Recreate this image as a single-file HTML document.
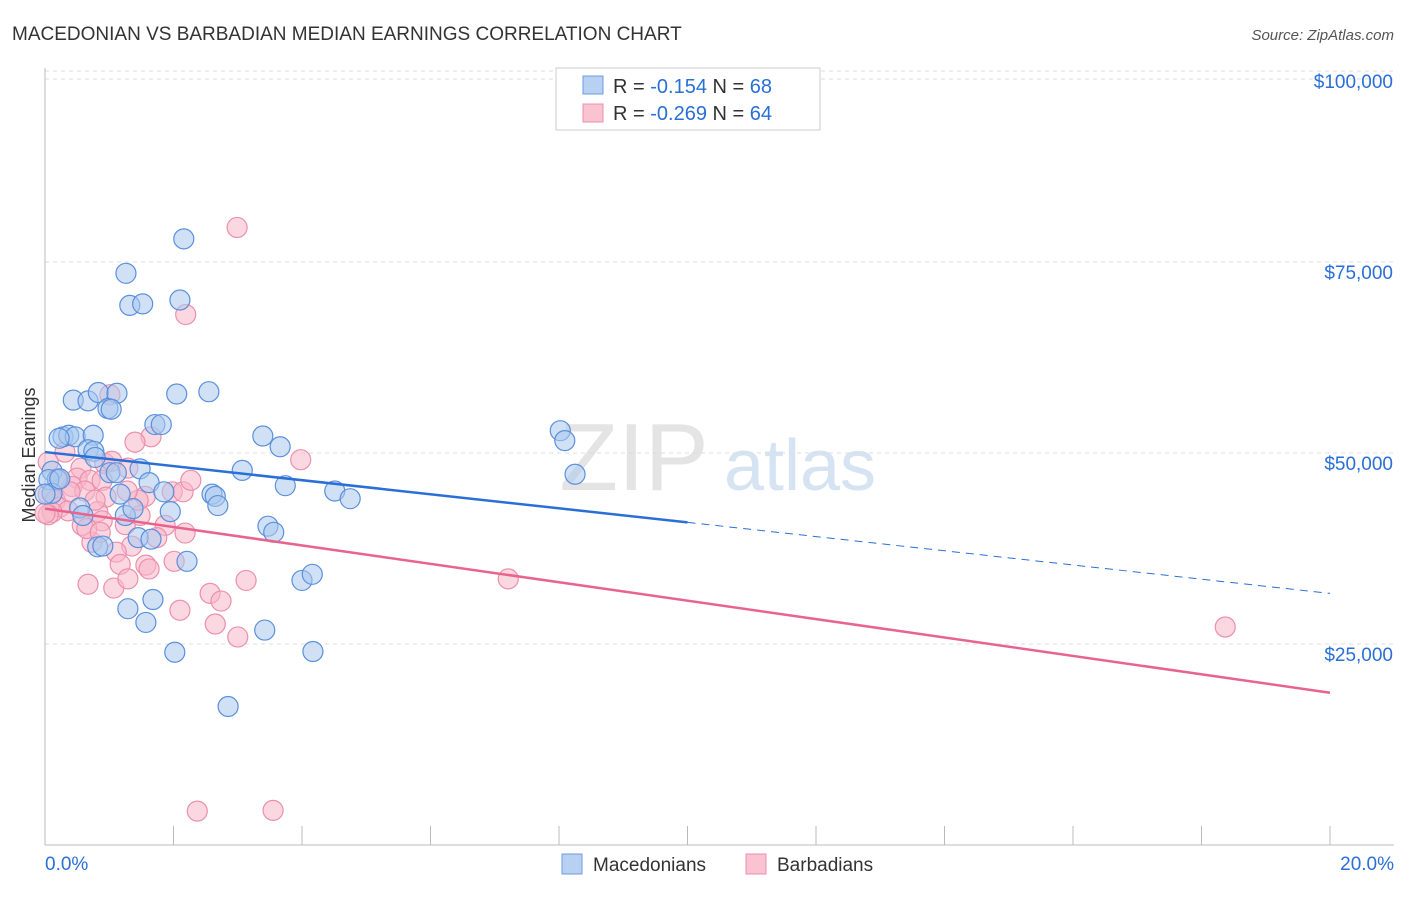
<!DOCTYPE html>
<html><head><meta charset="utf-8"><style>
body{margin:0;background:#fff;font-family:"Liberation Sans",sans-serif;}
svg text{font-family:"Liberation Sans",sans-serif;}
</style></head><body>
<svg id="chart" width="1406" height="892">
<text x="12" y="40" font-size="19" fill="#333">MACEDONIAN VS BARBADIAN MEDIAN EARNINGS CORRELATION CHART</text>
<text x="1394" y="40" font-size="15" fill="#555" font-style="italic" text-anchor="end">Source: ZipAtlas.com</text>
<text x="634" y="490" font-size="96" fill="#e4e4e4" font-family="Liberation Serif" text-anchor="middle">ZIP</text>
<text x="800" y="490" font-size="72" fill="#d6e3f3" text-anchor="middle">atlas</text>
<g id="grid"></g>
<g id="axes"></g>
<g id="pts"></g>
<g id="lines"></g>
<text transform="translate(35,455) rotate(-90)" font-size="18" fill="#333" text-anchor="middle">Median Earnings</text>
<g>
<rect x="556" y="68" width="264" height="62" fill="#fff" stroke="#ccc"/>
<rect x="583" y="76" width="20" height="18" fill="#b8d0f2" stroke="#6d9be0"/>
<rect x="583" y="104" width="20" height="18" fill="#f9c3d2" stroke="#ec8fac"/>
<text x="613" y="93" font-size="20" fill="#333">R = <tspan fill="#2a6fd6">-0.154</tspan>   N = <tspan fill="#2a6fd6">68</tspan></text>
<text x="613" y="120" font-size="20" fill="#333">R = <tspan fill="#2a6fd6">-0.269</tspan>   N = <tspan fill="#2a6fd6">64</tspan></text>
</g>
<g>
<rect x="562" y="854" width="20" height="20" fill="#b8d0f2" stroke="#6d9be0"/>
<text x="593" y="871" font-size="19" fill="#333">Macedonians</text>
<rect x="746" y="854" width="20" height="20" fill="#f9c3d2" stroke="#ec8fac"/>
<text x="777" y="871" font-size="19" fill="#333">Barbadians</text>
</g>
</svg>
<script>
const yTicks=[25000,50000,75000,100000];
const yTickLabels=["$25,000","$50,000","$75,000","$100,000"];
const xTickLabels=["0.0%","20.0%"];
const blueX=[2.16,1.26,1.32,1.52,2.10,0.44,0.67,0.83,1.12,0.98,1.03,2.05,2.55,1.71,1.81,0.28,0.37,0.47,0.75,0.22,0.67,0.76,0.11,0.19,0.06,1.01,1.11,1.48,1.62,1.85,2.60,2.65,3.07,3.39,3.66,3.74,4.51,4.75,8.02,8.09,8.25,0.54,0.59,1.25,1.37,1.17,0.11,3.47,2.69,3.56,1.45,1.65,0.82,0.90,2.21,1.29,1.68,1.57,2.02,2.85,3.42,4.00,4.16,4.17,0.0,0.23,0.78,1.95];
const blueY=[79200,74700,70500,70700,71200,58100,58000,59100,59000,57000,56900,58900,59200,54900,54900,53300,53500,53300,53500,53100,51600,51400,48800,47700,47700,48600,48600,49100,47300,46100,45800,45500,48900,53400,52000,46900,46200,45200,54100,52800,48400,44000,43000,43000,43900,45800,45900,41600,44300,40800,40100,39900,38900,39000,37000,30800,32000,29000,25100,18000,28000,34500,35300,25200,45800,47800,50600,43500];
const pinkX=[2.99,2.19,1.01,1.65,1.40,0.31,0.05,0.56,0.93,1.04,1.29,0.50,0.70,0.42,0.89,0.95,1.56,1.98,2.15,2.27,3.98,0.05,0.16,0.23,0.36,0.11,0.62,0.82,0.89,0.58,0.73,0.65,1.25,1.48,1.87,2.18,1.35,1.11,1.17,1.57,2.01,1.62,0.67,1.07,1.29,2.57,2.74,3.13,2.10,2.65,3.00,7.21,18.37,2.37,3.55,0.05,0.20,0.39,1.45,0.86,0.0,1.28,1.74,0.78];
const pinkY=[80700,69300,58800,53300,52600,51300,50000,49200,49800,50100,49200,47900,47600,46800,47600,45400,45500,46100,46100,47600,50300,45800,45000,44100,43600,43400,46200,43500,42300,41700,39500,41300,41800,43000,41700,40700,39000,38200,36600,36500,37000,36000,34000,33500,34700,32800,31800,34500,30600,28800,27100,34700,28400,4300,4400,43100,47800,46100,45000,40800,43300,46200,40100,45000];
const blueLineX=[0,10,20];const blueLineY=[51300,42100,32800];
const pinkLineX=[0,20];const pinkLineY=[43900,19800];
const X0=45,X1=1330,YB=844,PX=191/25000;
const sx=v=>X0+(v/20)*(X1-X0);
const sy=v=>YB-v*PX;
const NS="http://www.w3.org/2000/svg";
function mk(t,a,p){const e=document.createElementNS(NS,t);for(const k in a)e.setAttribute(k,a[k]);p.appendChild(e);return e;}
const grid=document.getElementById('grid'),axes=document.getElementById('axes'),pts=document.getElementById('pts'),lines=document.getElementById('lines');
yTicks.forEach((t,i)=>{
 const g=mk('line',{x1:X0,x2:1394,y1:sy(t)-9,y2:sy(t)-9,stroke:'#ddd','stroke-dasharray':'4,4'},grid);
 
 
 const l=mk('text',{x:1393,y:sy(t)+8,'font-size':19,fill:'#2a6fd6','text-anchor':'end'},axes);
 l.textContent=yTickLabels[i];
 
 
});
const topG=mk('line',{x1:X0,x2:1394,y1:79,y2:79,stroke:'#ddd','stroke-dasharray':'4,4'},grid);


const ya=mk('line',{x1:X0,x2:X0,y1:68,y2:845,stroke:'#bbb'},axes);


const xa=mk('line',{x1:X0,x2:1394,y1:845,y2:845,stroke:'#bbb'},axes);


for(let i=1;i<=10;i++){const tk=mk('line',{x1:sx(i*2),x2:sx(i*2),y1:826,y2:845,stroke:'#bbb'},axes);
 
 }
[[X0+0,'start',0],[1394,'end',1]].forEach(([x,a,i])=>{const t=mk('text',{x:x,y:870,'font-size':19,fill:'#2a6fd6','text-anchor':a},axes);t.textContent=xTickLabels[i];
 
 });
function dots(X,Y,fill,stroke,name){X.forEach((x,i)=>{const c=mk('circle',{cx:sx(x),cy:sy(Y[i]),r:10,fill:fill,'fill-opacity':0.55,stroke:stroke,'stroke-width':1.2},pts);
 
 });}
dots(pinkX,pinkY,'#f7b6c8','#ec8fac','barbadian-point');
dots(blueX,blueY,'#aac8ef','#5a8fdc','macedonian-point');
const b1=mk('line',{x1:sx(blueLineX[0]),y1:sy(blueLineY[0]),x2:sx(blueLineX[1]),y2:sy(blueLineY[1]),stroke:'#2a6fd6','stroke-width':2.5},lines);


const b2=mk('line',{x1:sx(blueLineX[1]),y1:sy(blueLineY[1]),x2:sx(blueLineX[2]),y2:sy(blueLineY[2]),stroke:'#2a6fd6','stroke-width':1,'stroke-dasharray':'8,6'},lines);


const p1=mk('line',{x1:sx(pinkLineX[0]),y1:sy(pinkLineY[0]),x2:sx(pinkLineX[1]),y2:sy(pinkLineY[1]),stroke:'#e8648f','stroke-width':2.5},lines);


</script>
</body></html>
